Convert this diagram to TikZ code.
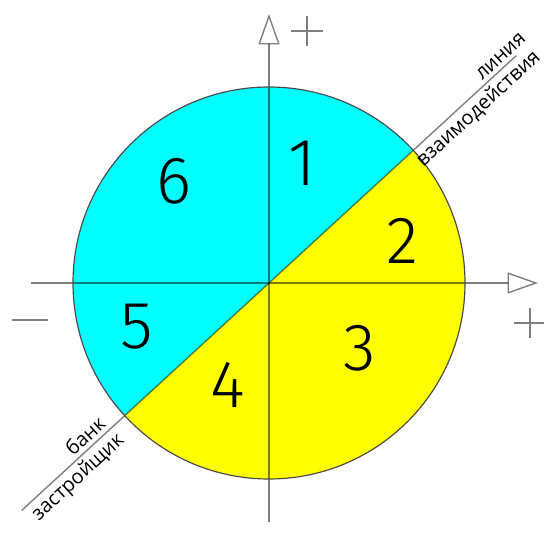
\documentclass[tikz,border=0pt]{standalone}
\usepackage{fontspec}
\setmainfont{Open Sans}
\newfontfamily\numfont{Fira Sans}[UprightFont={* Light}]
\usetikzlibrary{arrows.meta}
\definecolor{golub}{HTML}{00FFFF}
\definecolor{zhelt}{HTML}{FFFF00}
\definecolor{kontur}{HTML}{4A4A4A}

\begin{document}
\begin{tikzpicture}[x=0.03cm, y=0.03cm,
        axis/.style={draw=black, draw opacity=0.5, line width=1.2pt},
        arrowaxis/.style={axis, -{Triangle[open, length=26pt, width=18pt]}},
        sign/.style={draw=black, draw opacity=0.5, line width=1.2pt},
        num/.style={font=\numfont\fontsize{57}{60}\selectfont, inner sep=0pt},
        lbl/.style={font=\fontsize{17}{19}\selectfont, rotate=42.6, inner sep=3.5pt}
      ]
      \useasboundingbox (-269,-270) rectangle (275,283);

      % ── Kreis: zwei Hälften ──
      \coordinate (O) at (0,0);
      \fill[golub] (O) -- (42.6:196) arc[start angle=42.6, end angle=222.6, radius=196] -- cycle;
      \fill[zhelt] (O) -- (222.6:196) arc[start angle=222.6, end angle=402.6, radius=196] -- cycle;

      % ── Achsen ──
      \coordinate (xL) at (-238,0);
      \coordinate (xR) at (269,0);
      \coordinate (yB) at (0,-239);
      \coordinate (yT) at (0,269);
      \draw[arrowaxis] (xL) -- (xR);
      \draw[arrowaxis] (yB) -- (yT);

      % ── Diagonale ──
      \coordinate (diagA) at (222.6:336);
      \coordinate (diagB) at (42.6:336);
      \draw[axis] (diagA) -- (diagB);

      \draw[kontur, line width=1pt] (O) circle[radius=196];

      % ── Vorzeichen ──
      \coordinate (plusY) at (38,252);
      \coordinate (plusX) at (261,-40);
      \coordinate (minusX) at (-239,-37);
      \foreach \p in {plusY, plusX}
        \draw[sign] (\p) ++(-16,0) -- ++(32,0) (\p) ++(0,-15) -- ++(0,30);
      \draw[sign] (minusX) ++(-18,0) -- ++(36,0);

      % ── Sektoren ──
      \foreach \n/\x/\y in {1/33/120, 2/133/42, 3/91/-65, 4/-41/-102, 5/-132/-44, 6/-95/102}
        \node[num] (s\n) at (\x,\y) {\n};

      % ── Beschriftung der Linie ──
      \node[lbl, anchor=south] (linia) at (42.6:324)  {линия};
      \node[lbl, anchor=north] (vzaim) at (42.6:272)  {взаимодействия};
      \node[lbl, anchor=south] (bank)  at (222.6:239) {банк};
      \node[lbl, anchor=north] (zastr) at (222.6:272) {застройщик};
    \end{tikzpicture}
\end{document}
